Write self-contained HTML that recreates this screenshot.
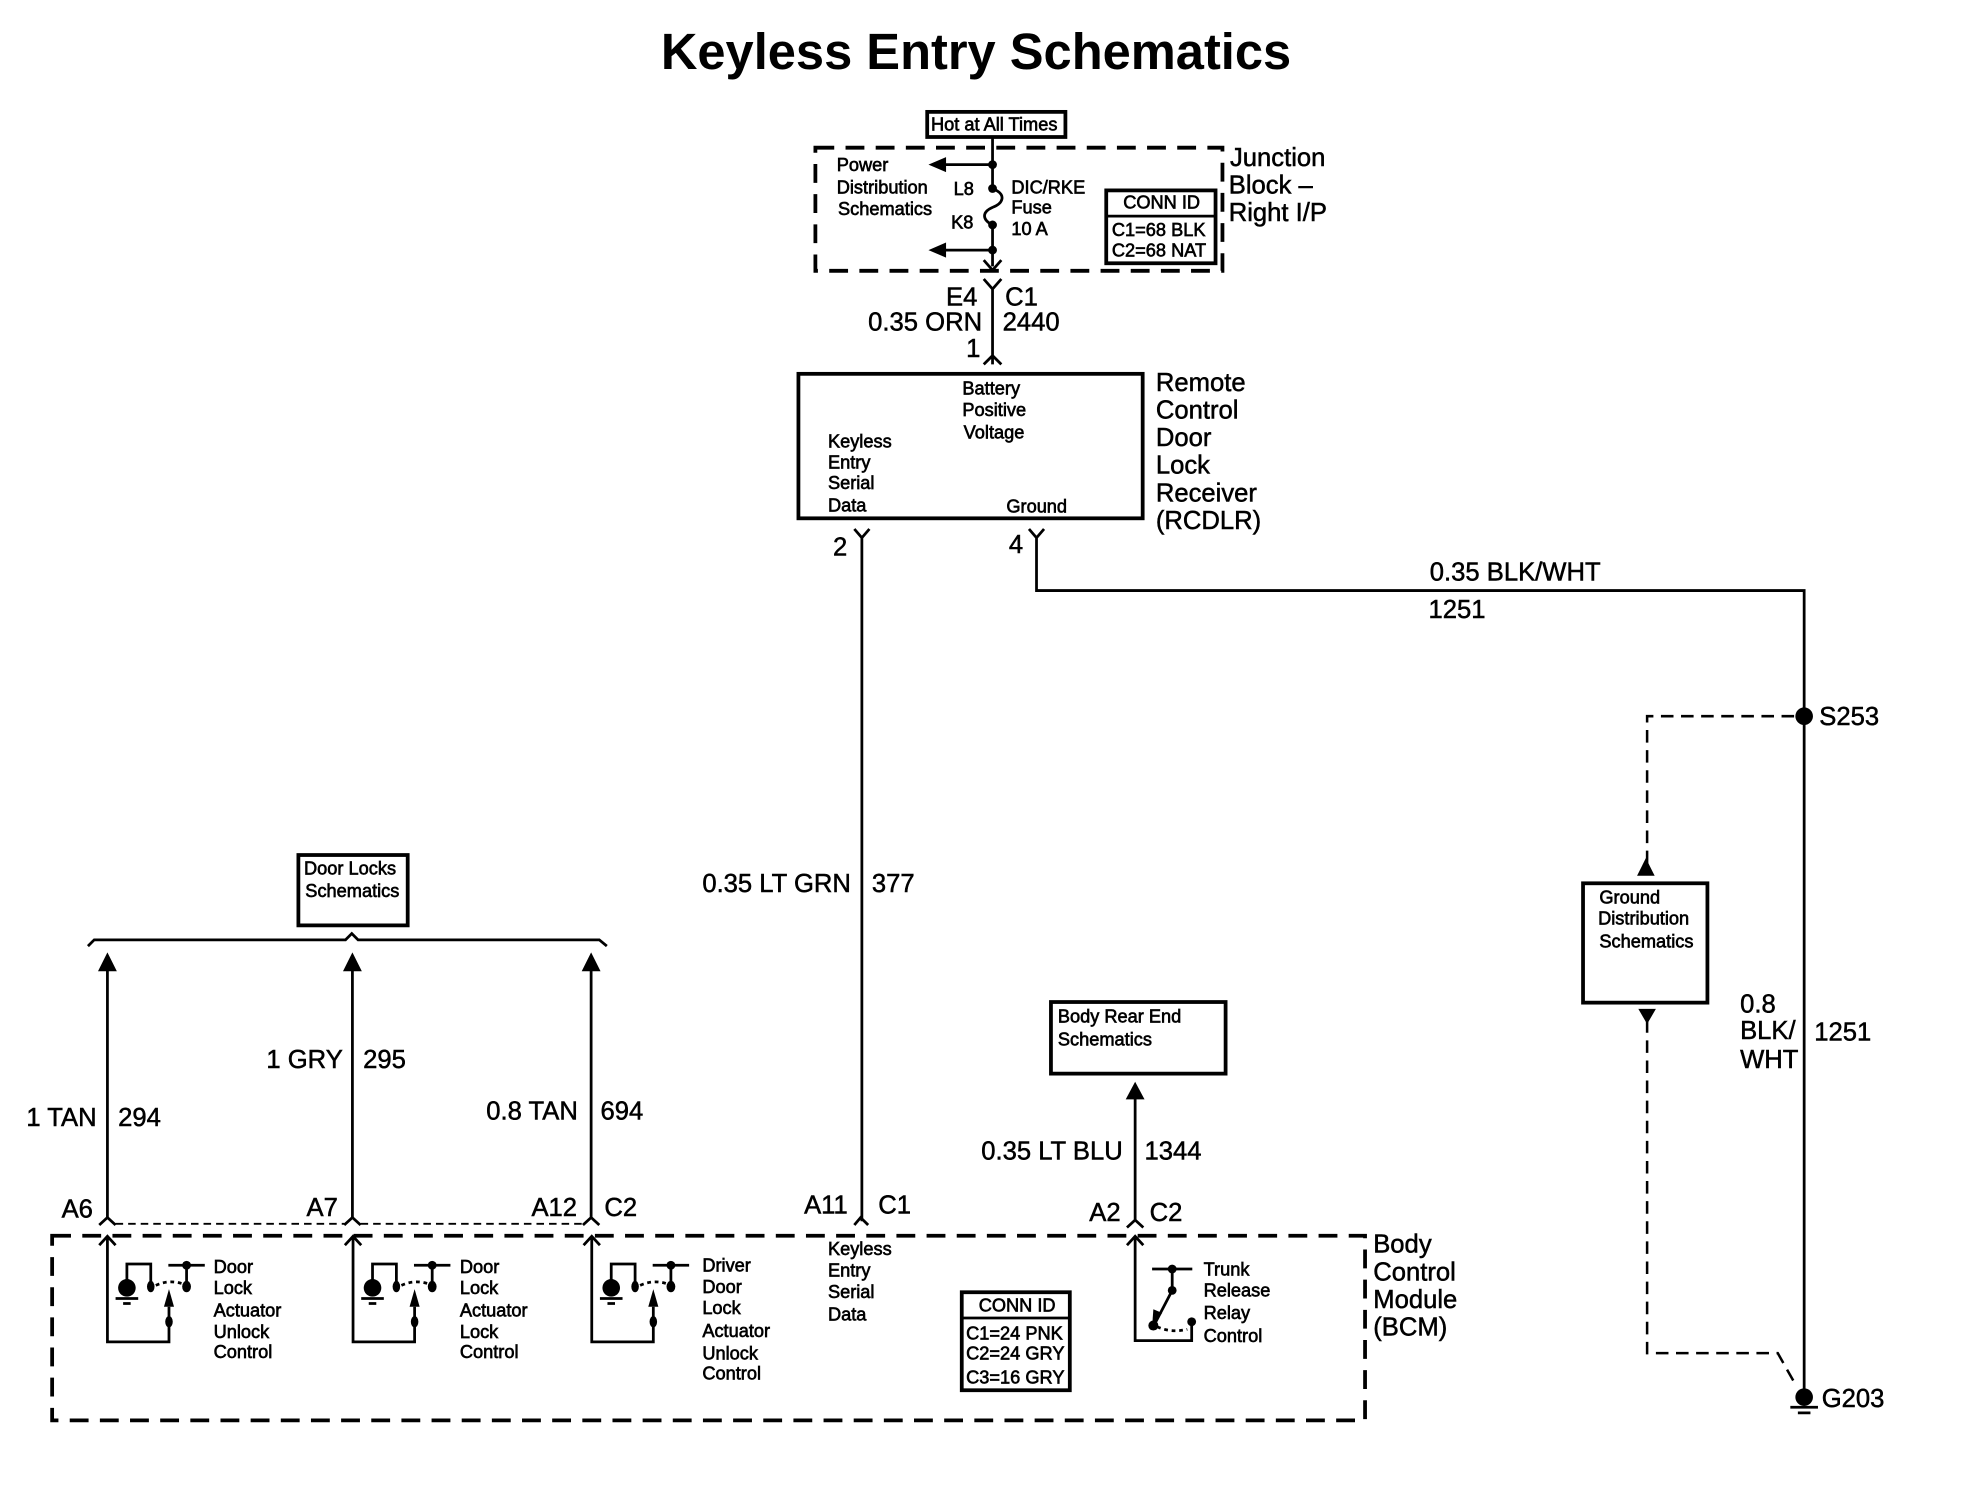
<!DOCTYPE html>
<html><head><meta charset="utf-8"><title>Keyless Entry Schematics</title>
<style>
html,body{margin:0;padding:0;background:#fff}
svg{display:block}
text{font-family:"Liberation Sans",Arial,sans-serif;fill:#000}
.s{font-size:14.5px;stroke:#000;stroke-width:.5px}
.l{font-size:20.4px;stroke:#000;stroke-width:.4px}
.t{font-size:40.3px;font-weight:bold}
.w{fill:none;stroke:#000;stroke-width:2.2}
.b{fill:#fff;stroke:#000;stroke-width:3}
.d{fill:none;stroke:#000;stroke-width:3;stroke-dasharray:15 9}
.n{fill:none;stroke:#000;stroke-width:2;stroke-dasharray:10 6}
</style></head><body>
<svg xmlns="http://www.w3.org/2000/svg" width="1970" height="1504" viewBox="0 0 1568 1197">
<rect width="1568" height="1197" fill="#fff"/>
<text class="t" x="526" y="55">Keyless Entry Schematics</text>

<!-- Junction block -->
<rect class="b" x="738" y="89" width="110" height="20"/>
<text class="s" x="741" y="104">Hot at All Times</text>
<rect class="d" x="649" y="117.500" width="324" height="98"/>
<path class="w" d="M790 109V150M790 179V212M790 131H752M790 199H752M790 150c12 5 8 12 0 15c-9 4-8 10 0 14"/>
<path d="M739 131l14-6v12zM739 199l14-6v12z"/>
<circle cx="790" cy="131" r="3.500"/><circle cx="790" cy="150" r="3.500"/><circle cx="790" cy="179" r="3.500"/><circle cx="790" cy="199" r="3.500"/>
<path class="w" d="M783 207l7 8 7-8M783 222l7 8 7-8M790 230V290M783 290l7-7 7 7"/>
<text class="s" x="666" y="136">Power</text><text class="s" x="666" y="154">Distribution</text><text class="s" x="667" y="171">Schematics</text>
<text class="s" x="759" y="155">L8</text><text class="s" x="757" y="182">K8</text>
<text class="s" x="805" y="154">DIC/RKE</text><text class="s" x="805" y="170">Fuse</text><text class="s" x="805" y="187">10 A</text>
<rect class="b" x="880.500" y="151.500" width="87" height="58"/><path class="w" d="M880 172H968"/>
<text class="s" x="894" y="166">CONN ID</text><text class="s" x="885" y="188">C1=68 BLK</text><text class="s" x="885" y="204">C2=68 NAT</text>
<text class="l" x="979" y="132">Junction</text><text class="l" x="978" y="154">Block –</text><text class="l" x="978" y="176">Right I/P</text>
<text class="l" x="753" y="243">E4</text><text class="l" x="800" y="243">C1</text>
<text class="l" x="691" y="263">0.35 ORN</text><text class="l" x="798" y="263">2440</text><text class="l" x="769" y="284">1</text>

<!-- RCDLR -->
<rect class="b" x="635.500" y="297.500" width="274" height="115"/>
<text class="s" x="766" y="314">Battery</text><text class="s" x="766" y="331">Positive</text><text class="s" x="767" y="349">Voltage</text>
<text class="s" x="659" y="356">Keyless</text><text class="s" x="659" y="373">Entry</text><text class="s" x="659" y="389">Serial</text><text class="s" x="659" y="407">Data</text>
<text class="s" x="801" y="408">Ground</text>
<text class="l" x="920" y="311">Remote</text><text class="l" x="920" y="333">Control</text><text class="l" x="920" y="355">Door</text><text class="l" x="920" y="377">Lock</text><text class="l" x="920" y="399">Receiver</text><text class="l" x="920" y="421">(RCDLR)</text>
<text class="l" x="663" y="442">2</text><text class="l" x="803" y="440">4</text>
<path class="w" d="M680 421l6 7 6-7M686 428V972M680 975l5-6 6 6"/>
<path class="w" d="M819 421l6 7 6-7M825 428V470H1436V1112"/>
<text class="l" x="1138" y="462">0.35 BLK/WHT</text><text class="l" x="1137" y="492">1251</text>
<text class="l" x="559" y="710">0.35 LT GRN</text><text class="l" x="694" y="710">377</text>

<!-- Splice and ground -->
<circle cx="1436" cy="570" r="7"/>
<text class="l" x="1448" y="577">S253</text>
<path class="n" d="M1428 570H1311V688"/>
<path d="M1303 697h14l-7-14z"/>
<rect class="b" x="1260" y="703" width="99" height="95"/>
<text class="s" x="1273" y="719">Ground</text><text class="s" x="1272" y="736">Distribution</text><text class="s" x="1273" y="754">Schematics</text>
<path d="M1304 803h14l-7 12z"/>
<path class="n" d="M1311 812V1077H1415L1428 1100"/>
<circle cx="1436" cy="1112" r="7"/>
<path class="w" d="M1425 1120H1447M1431 1124.500H1441"/>
<text class="l" x="1450" y="1120">G203</text>
<text class="l" x="1385" y="806">0.8</text><text class="l" x="1385" y="827">BLK/</text><text class="l" x="1385" y="850">WHT</text><text class="l" x="1444" y="828">1251</text>

<!-- Door locks -->
<rect class="b" x="237.500" y="680.500" width="87" height="56"/>
<text class="s" x="242" y="696">Door Locks</text><text class="s" x="243" y="714">Schematics</text>
<path class="w" d="M70 753L75 748H275L280 743L285 748H477L483 753"/>
<path d="M78 773h15l-7.500-15zM273 773h15l-7.500-15zM463 773h15l-7.500-15z"/>
<path class="w" d="M85.500 770V970M280.500 770V970M470.500 770V970"/>
<path class="w" d="M79 975l6.500-6 6.500 6M274 975l6.500-6 6.500 6M464 975l6.500-6 6.500 6"/>
<path class="n" style="stroke-width:1.500;stroke-dasharray:6 4" d="M92 974H274M287 974H464"/>
<text class="l" x="21" y="896">1 TAN</text><text class="l" x="94" y="896">294</text>
<text class="l" x="212" y="850">1 GRY</text><text class="l" x="289" y="850">295</text>
<text class="l" x="387" y="891">0.8 TAN</text><text class="l" x="478" y="891">694</text>
<text class="l" x="49" y="969">A6</text><text class="l" x="244" y="968">A7</text><text class="l" x="423" y="968">A12</text><text class="l" x="481" y="968">C2</text>
<text class="l" x="640" y="966">A11</text><text class="l" x="699" y="966">C1</text>
<text class="l" x="867" y="972">A2</text><text class="l" x="915" y="972">C2</text>

<!-- Body rear end -->
<rect class="b" x="836.500" y="797.500" width="139" height="57"/>
<text class="s" x="842" y="814">Body Rear End</text><text class="s" x="842" y="832">Schematics</text>
<path d="M896 875h15l-7.500-14z"/>
<path class="w" d="M903.500 870V972M897 977l6.500-6 6.500 6"/>
<text class="l" x="781" y="923">0.35 LT BLU</text><text class="l" x="911" y="923">1344</text>

<!-- BCM -->
<rect class="d" x="41.500" y="983.500" width="1045" height="147"/>
<text class="l" x="1093" y="997">Body</text><text class="l" x="1093" y="1019">Control</text><text class="l" x="1093" y="1041">Module</text><text class="l" x="1093" y="1063">(BCM)</text>

<g id="sw1">
<path class="w" d="M79 991l6.500-7 6.500 7M85.500 985V1068H134.500V1040M101 1020V1006H120V1024M148.500 1024V1007M134 1007H163"/>
<path d="M134.500 1026l4 14h-8z"/>
<circle cx="101" cy="1025" r="7"/><ellipse cx="120" cy="1024" rx="3" ry="4.500"/><ellipse cx="148.500" cy="1024" rx="3.500" ry="4.500"/><circle cx="148.500" cy="1007" r="3.500"/><ellipse cx="134.500" cy="1052" rx="3" ry="4.500"/>
<path class="w" style="stroke-dasharray:3 3" d="M124 1023Q135 1018 146 1022"/>
<path class="w" d="M92 1033.500H110M98 1037.500H104"/>
</g>
<g transform="translate(195.500,0)">
<path class="w" d="M79 991l6.500-7 6.500 7M85.500 985V1068H134.500V1040M101 1020V1006H120V1024M148.500 1024V1007M134 1007H163"/>
<path d="M134.500 1026l4 14h-8z"/>
<circle cx="101" cy="1025" r="7"/><ellipse cx="120" cy="1024" rx="3" ry="4.500"/><ellipse cx="148.500" cy="1024" rx="3.500" ry="4.500"/><circle cx="148.500" cy="1007" r="3.500"/><ellipse cx="134.500" cy="1052" rx="3" ry="4.500"/>
<path class="w" style="stroke-dasharray:3 3" d="M124 1023Q135 1018 146 1022"/>
<path class="w" d="M92 1033.500H110M98 1037.500H104"/>
</g>
<g transform="translate(385.500,0)">
<path class="w" d="M79 991l6.500-7 6.500 7M85.500 985V1068H134.500V1040M101 1020V1006H120V1024M148.500 1024V1007M134 1007H163"/>
<path d="M134.500 1026l4 14h-8z"/>
<circle cx="101" cy="1025" r="7"/><ellipse cx="120" cy="1024" rx="3" ry="4.500"/><ellipse cx="148.500" cy="1024" rx="3.500" ry="4.500"/><circle cx="148.500" cy="1007" r="3.500"/><ellipse cx="134.500" cy="1052" rx="3" ry="4.500"/>
<path class="w" style="stroke-dasharray:3 3" d="M124 1023Q135 1018 146 1022"/>
<path class="w" d="M92 1033.500H110M98 1037.500H104"/>
</g>
<text class="s" x="170" y="1013">Door</text><text class="s" x="170" y="1030">Lock</text><text class="s" x="170" y="1048">Actuator</text><text class="s" x="170" y="1065">Unlock</text><text class="s" x="170" y="1081">Control</text>
<text class="s" x="366" y="1013">Door</text><text class="s" x="366" y="1030">Lock</text><text class="s" x="366" y="1048">Actuator</text><text class="s" x="366" y="1065">Lock</text><text class="s" x="366" y="1081">Control</text>
<text class="s" x="559" y="1012">Driver</text><text class="s" x="559" y="1029">Door</text><text class="s" x="559" y="1046">Lock</text><text class="s" x="559" y="1064">Actuator</text><text class="s" x="559" y="1082">Unlock</text><text class="s" x="559" y="1098">Control</text>
<text class="s" x="659" y="999">Keyless</text><text class="s" x="659" y="1016">Entry</text><text class="s" x="659" y="1033">Serial</text><text class="s" x="659" y="1051">Data</text>

<rect class="b" x="765.500" y="1028.500" width="86" height="78"/><path class="w" d="M765 1049H852"/>
<text class="s" x="779" y="1044">CONN ID</text><text class="s" x="769" y="1066">C1=24 PNK</text><text class="s" x="769" y="1082">C2=24 GRY</text><text class="s" x="769" y="1101">C3=16 GRY</text>

<!-- Trunk switch -->
<path class="w" d="M897 991l6.500-7 6.500 7M903.500 985V1067H948.500V1052M917 1010H949M933 1010V1027L920 1052"/>
<path d="M917 1056l1-14 7 3z"/>
<circle cx="933" cy="1010" r="3.500"/><circle cx="933" cy="1027" r="3.500"/><circle cx="918" cy="1055" r="4"/><circle cx="948.500" cy="1052" r="3.500"/>
<path class="w" style="stroke-dasharray:3 3" d="M921 1056Q932 1061 945 1058"/>
<text class="s" x="958" y="1015">Trunk</text><text class="s" x="958" y="1032">Release</text><text class="s" x="958" y="1050">Relay</text><text class="s" x="958" y="1068">Control</text>
</svg>
</body></html>
